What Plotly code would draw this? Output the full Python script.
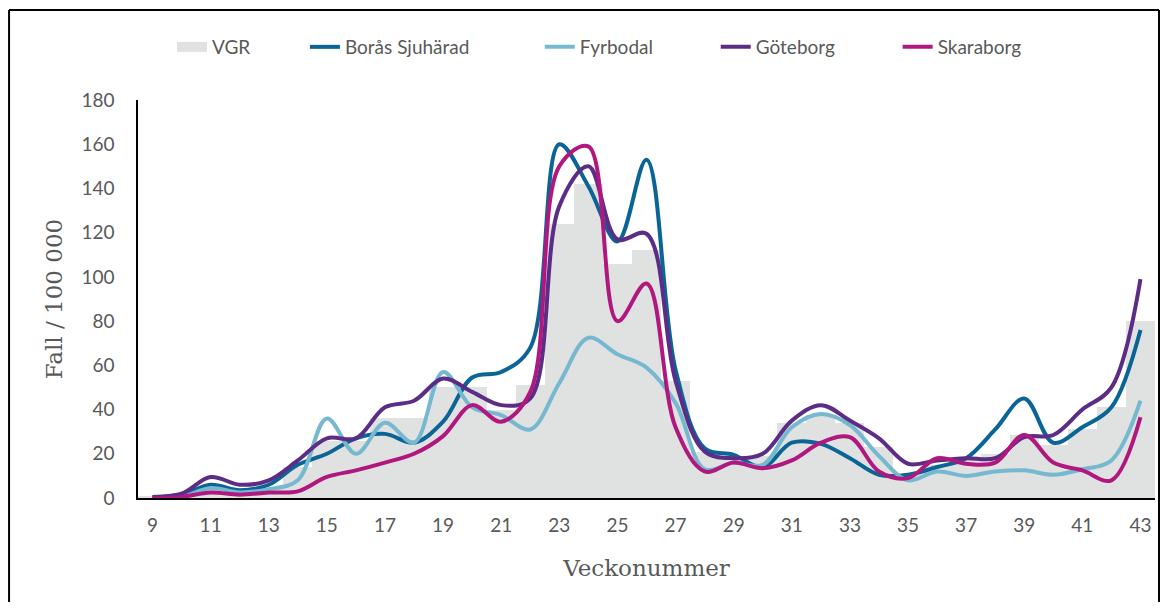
import plotly.graph_objects as go

weeks = list(range(9, 44))
tick_weeks = list(range(9, 44, 2))
y_ticks = list(range(0, 181, 20))

vgr = [0.5, 1, 4, 3, 5, 14, 26, 26, 36, 36, 50, 50, 40, 51, 124, 142, 106, 112, 53, 21,
       17, 19, 34, 37.5, 34, 23, 11, 15, 17, 20, 28.5, 24, 31, 41, 80]
boras = [0.5, 1.5, 6, 3.5, 6, 15, 20, 27, 29, 25, 34.5, 54.5, 57, 68, 160, 141, 116, 153, 58, 22.5,
         19.5, 14, 25, 24.5, 18, 10.5, 10.5, 14, 18, 31, 45, 25, 32, 41, 76]
fyrbodal = [0, 0.5, 4.5, 2.5, 4, 8, 36, 20, 34, 25, 57, 41, 37.5, 31, 52, 72.5, 65, 59, 43, 13,
            16, 15, 32, 38, 33, 19, 8, 12, 10, 12, 12.5, 10.5, 13, 17, 44]
goteborg = [0.5, 2, 9.5, 6, 8, 17, 27, 27, 41, 44, 54, 48, 42, 45, 132, 150, 117, 119.5, 53, 21,
            18, 20, 35, 42, 35, 27, 15.5, 17, 18, 18, 27.5, 28.5, 40, 50, 99]
skaraborg = [0, 0.5, 2.5, 1.5, 2.5, 3, 9.5, 12.5, 16, 20, 28, 42, 34.5, 48, 150, 159, 80, 97, 32, 12,
             16, 13.5, 17, 25, 27.5, 12, 9, 18, 15.5, 16, 28.5, 16, 12.5, 8, 36.5]

series = [
    ("Borås Sjuhärad", boras, "#0B6496", "legend2"),
    ("Fyrbodal", fyrbodal, "#76B8CF", "legend3"),
    ("Göteborg", goteborg, "#5C2D87", "legend4"),
    ("Skaraborg", skaraborg, "#B0187F", "legend5"),
]

GRAY = "#595959"
LEGEND_FONT = dict(family="Lato", size=19, color=GRAY)

# the page body adds an 8px offset; figure coordinates = reference pixels - 8
OFF = 8
W, H = 1169 - 2 * OFF, 610 - 2 * OFF
L, T = 138 - OFF, 100 - OFF
PW, PH = 1017.5, 398
R = W - L - PW
B = H - T - PH

fig = go.Figure()
fig.add_trace(go.Bar(x=weeks, y=vgr, width=1, name="VGR",
                     marker=dict(color="#E0E1E1", line=dict(width=0)),
                     showlegend=False, hoverinfo="skip"))
# legend entry for VGR (wide gray swatch)
fig.add_trace(go.Scatter(x=[None], y=[None], mode="lines", name="VGR",
                         line=dict(color="#E0E1E1", width=14), legend="legend"))
for name, vals, col, lg in series:
    fig.add_trace(go.Scatter(x=weeks, y=vals, mode="lines", name=name,
                             line=dict(color=col, width=4, shape="spline", smoothing=1),
                             legend=lg))

def px2paper_x(px):
    return (px - OFF - L) / PW

def px2paper_y(py):
    return (T + PH - (py - OFF)) / PH

leg_y = px2paper_y(47)
legend_common = dict(orientation="h", yanchor="middle", xanchor="left", y=leg_y,
                     bgcolor="rgba(0,0,0,0)", font=LEGEND_FONT, itemwidth=30)
text_starts = [214, 347, 582, 758, 940]
legends = {}
for i, tx in enumerate(text_starts):
    key = "legend" if i == 0 else f"legend{i+1}"
    legends[key] = dict(legend_common, x=px2paper_x(tx - 42))

# chart frame: left, top and right edges (bottom lies below the visible page)
bx0, bx1 = px2paper_x(9), px2paper_x(OFF + W - 1.5)
by_top, by_bot = px2paper_y(10), px2paper_y(OFF + H)
frame_line = dict(color="black", width=2)
frame = [
    dict(type="line", xref="paper", yref="paper", x0=bx0, x1=bx0, y0=by_bot, y1=by_top, line=frame_line),
    dict(type="line", xref="paper", yref="paper", x0=bx0, x1=bx1, y0=by_top, y1=by_top, line=frame_line),
    dict(type="line", xref="paper", yref="paper", x0=bx1, x1=bx1, y0=by_bot, y1=by_top, line=frame_line),
]

fig.update_layout(
    width=W, height=H,
    margin=dict(l=L, r=R, t=T, b=B, autoexpand=False),
    paper_bgcolor="white", plot_bgcolor="white",
    bargap=0,
    xaxis=dict(range=[8.5, 43.5], tickvals=tick_weeks, ticktext=[str(w) for w in tick_weeks],
               showgrid=False, zeroline=False, showline=True, linecolor="black", linewidth=2,
               ticks="", ticklabelstandoff=9,
               tickfont=dict(family="Lato", size=19, color=GRAY),
               title=dict(text="Veckonummer", standoff=25,
                          font=dict(family="DejaVu Serif", size=23, color=GRAY))),
    yaxis=dict(range=[0, 180], tickvals=y_ticks, showgrid=False, zeroline=False,
               showline=True, linecolor="black", linewidth=1.5, ticks="",
               ticklabelstandoff=18,
               tickfont=dict(family="Lato", size=19, color=GRAY),
               title=dict(text="Fall / 100 000", standoff=12,
                          font=dict(family="DejaVu Serif", size=23, color=GRAY))),
    shapes=frame,
    **legends,
)

fig.write_html("out.html", config={"displayModeBar": False})
